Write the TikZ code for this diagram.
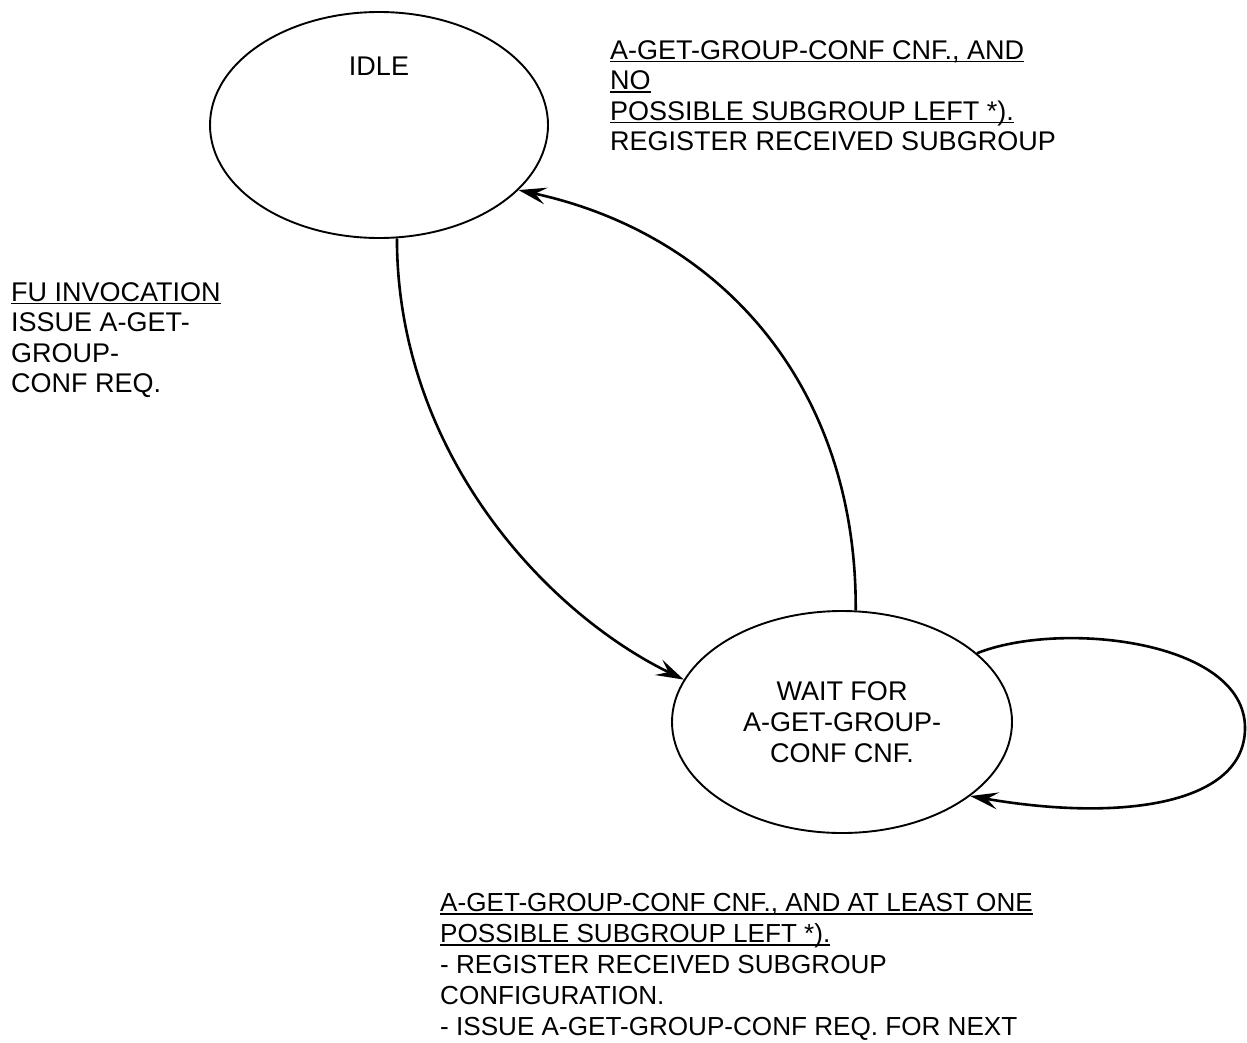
\documentclass[tikz,border=0pt]{standalone}
\usepackage{fontspec}
\setmainfont{Liberation Sans}
\usetikzlibrary{shapes.geometric,arrows.meta}
% underline at a fixed distance below the baseline
\newcommand\ulline[1]{\setbox0\hbox{#1}\rlap{\rule[-3.2pt]{\wd0}{1.4pt}}\box0}
\begin{document}
\begin{tikzpicture}[x=1pt,y=-1pt,
  state/.style={draw,ellipse,line width=1.9pt,inner sep=0pt},
  lbl/.style={inner sep=0pt,align=left,font=\fontsize{27}{30.6}\selectfont},
  trans/.style={line width=2.6pt,-{Stealth[length=28pt,width=17pt,inset=11pt]}}]
\useasboundingbox (0,0) rectangle (1247,1042);
% states
\node[state,minimum width=338pt,minimum height=226pt] (idle) at (379,125) {};
\node[inner sep=0pt,font=\fontsize{27}{30.7}\selectfont] (idletxt) at (379,66.5) {IDLE};
\node[state,minimum width=340pt,minimum height=222pt,align=center,
      font=\fontsize{27}{30.7}\selectfont] (wait) at (842,722)
  {WAIT FOR\\A-GET-GROUP-\\CONF CNF.};
% transition labels
\node[lbl,anchor=north west] (lnone) at (610,40)
  {\ulline{A-GET-GROUP-CONF CNF., AND}\\\ulline{NO}\\\ulline{POSSIBLE SUBGROUP LEFT *).}\\REGISTER RECEIVED SUBGROUP};
\node[lbl,anchor=north west] (linv) at (11,282)
  {\ulline{FU INVOCATION}\\ISSUE A-GET-\\GROUP-\\CONF REQ.};
\node[lbl,anchor=north west,font=\fontsize{26.1}{31}\selectfont] (lnext) at (440,893)
  {\ulline{A-GET-GROUP-CONF CNF., AND AT LEAST ONE}\\\ulline{POSSIBLE SUBGROUP LEFT *).}\\- REGISTER RECEIVED SUBGROUP\\CONFIGURATION.\\- ISSUE A-GET-GROUP-CONF REQ. FOR NEXT};
% transitions
\draw[trans] (idle.-81) .. controls (397,450) and (543,611) .. (wait.165);
\draw[trans] (wait.83) .. controls (857,390) and (725,235) .. (idle.-25);
\coordinate (loopR) at (1245,728);
\draw[trans] (wait.27) .. controls (1060,620) and (1245,640) .. (loopR)
  .. controls (1245,805) and (1120,822) .. (wait.-30);
\end{tikzpicture}
\end{document}
